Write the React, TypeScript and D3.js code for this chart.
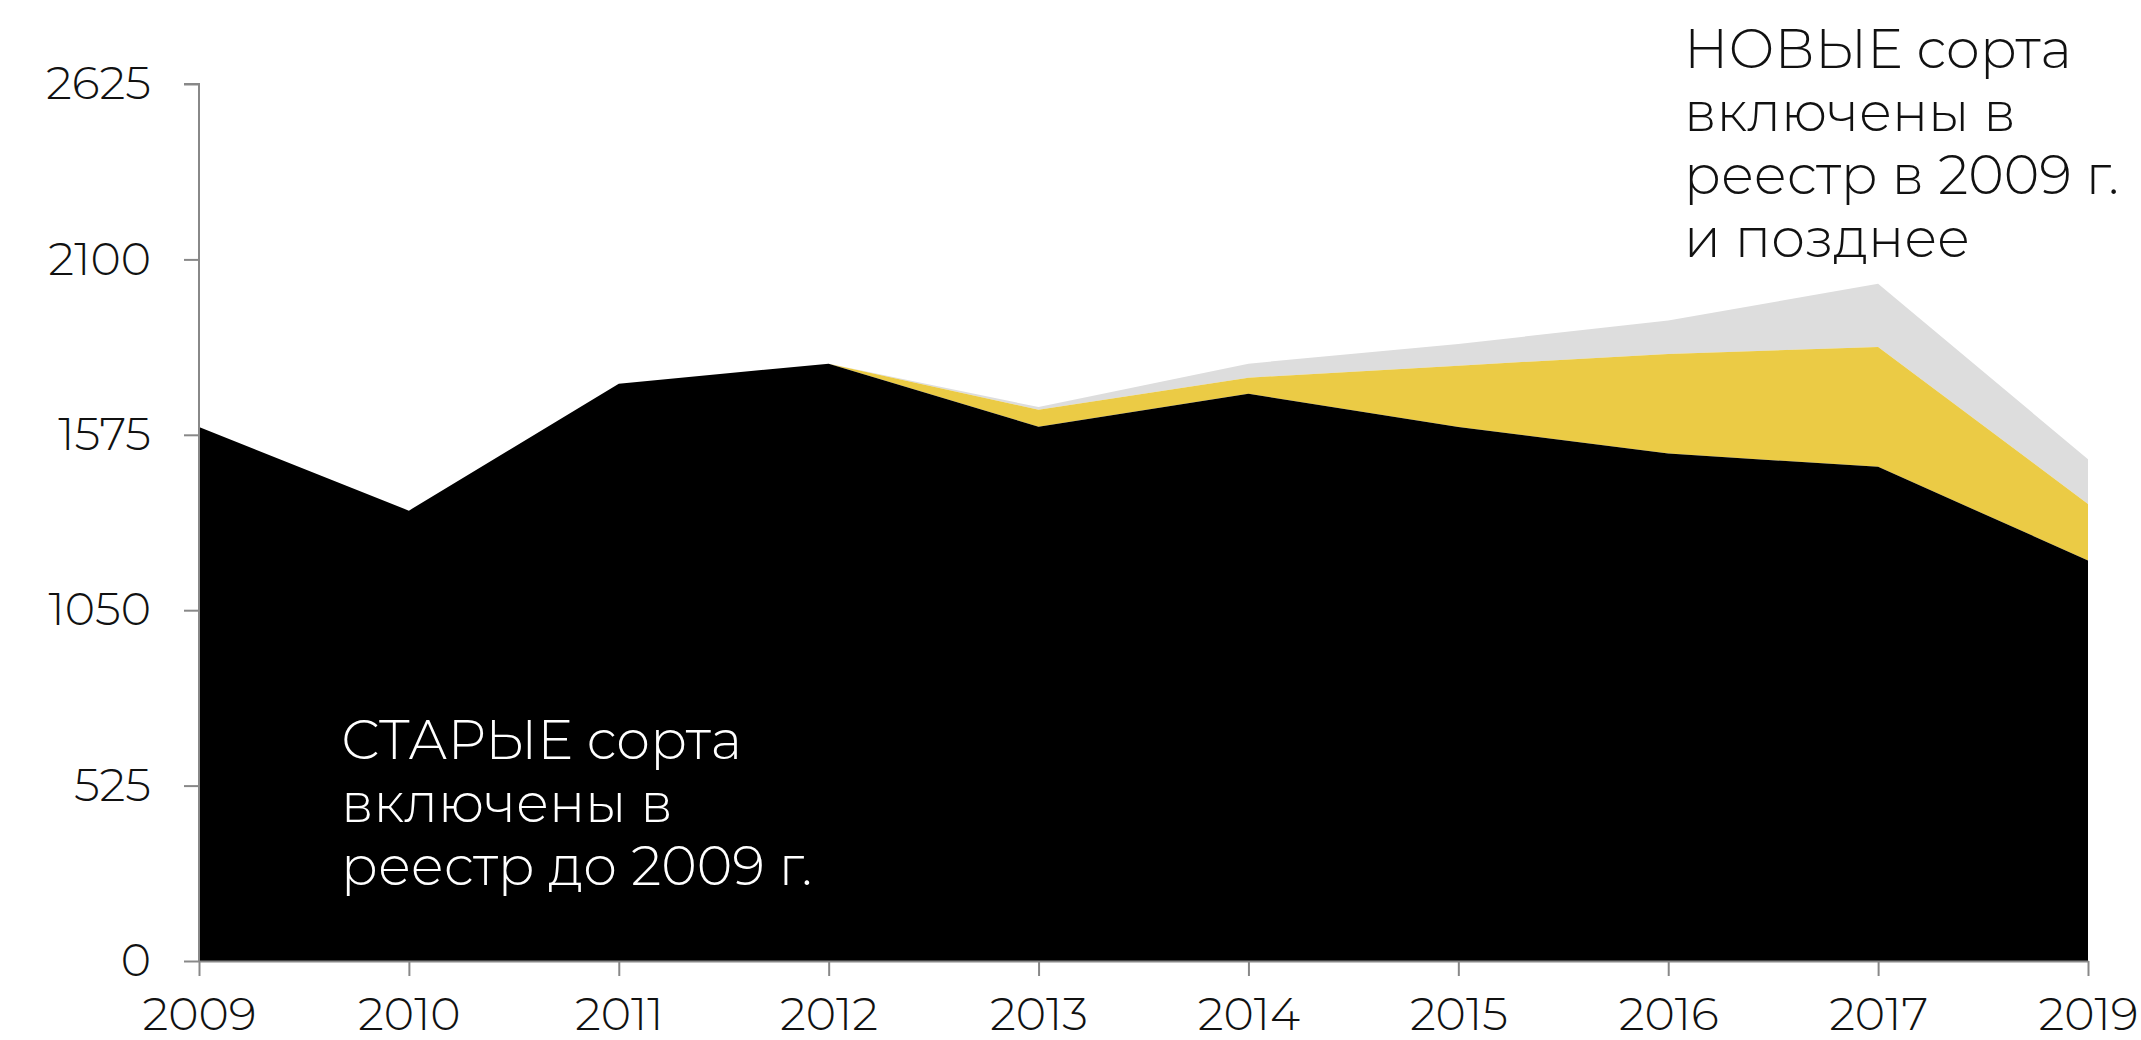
import React, { useRef, useEffect } from 'react';
import * as d3 from 'd3';

// years on the x axis (2018 is not in the source)
const years = ['2009', '2010', '2011', '2012', '2013', '2014', '2015', '2016', '2017', '2019'];
// varieties registered before 2009
const oldVarieties = [1598, 1348, 1728, 1788, 1599, 1698, 1598, 1519, 1479, 1199];
// new varieties, yellow layer
const newYellow = [0, 0, 0, 0, 51, 48, 184, 298, 359, 169];
// new varieties, grey layer
const newGrey = [0, 0, 0, 0, 8, 42, 65, 100, 189, 134];
const yTicks = [0, 525, 1050, 1575, 2100, 2625];

const colors = ['#000000', '#EBCB45', '#DDDDDD'];
const FONT = "Montserrat, 'Open Sans', sans-serif";

export default function App() {
  const svgRef = useRef<SVGSVGElement>(null);

  useEffect(() => {
    const svg = d3.select(svgRef.current);
    const width = 2141;
    const height = 1040;
    svg.attr('viewBox', `0 0 ${width} ${height}`);
    svg.selectAll('*').remove();

    const rows = years.map((y, i) => ({
      year: y,
      old: oldVarieties[i],
      yellow: newYellow[i],
      grey: newGrey[i],
    }));

    const x = d3.scalePoint<string>().domain(years).range([199, 2088]);
    const y = d3.scaleLinear().domain([0, 2625]).range([961, 84]);

    const stack = d3.stack<any>().keys(['old', 'yellow', 'grey']);
    const series = stack(rows);

    const area = d3.area<any>()
      .x(d => x(d.data.year)!)
      .y0(d => y(d[0]))
      .y1(d => y(d[1]));

    // draw grey first so the upper layers sit above it, then yellow, then black
    [2, 1, 0].forEach(k => {
      svg.append('path')
        .datum(series[k])
        .attr('fill', colors[k])
        .attr('d', area);
    });

    const yAxis = svg.append('g')
      .attr('transform', `translate(${x('2009')},0)`)
      .call(d3.axisLeft(y).tickValues(yTicks).tickSize(15).tickPadding(33).tickFormat(d3.format('d')));

    const xAxis = svg.append('g')
      .attr('transform', `translate(0,${y(0)})`)
      .call(d3.axisBottom(x).tickSize(15).tickPadding(21).tickSizeOuter(0));

    [yAxis, xAxis].forEach(g => {
      g.select('.domain').attr('stroke', '#888').attr('stroke-width', 2);
      g.selectAll('.tick line').attr('stroke', '#888').attr('stroke-width', 2);
      g.selectAll('.tick text')
        .attr('fill', '#111')
        .style('font-family', FONT)
        .style('font-weight', 300)
        .style('font-size', '46px');
    });
    yAxis.select('.domain').attr('d', `M-15,${y(2625)}H0V${y(0)}`);

    const label = (lines: string[], x0: number, y0: number, fill: string) => {
      const t = svg.append('text')
        .attr('fill', fill)
        .style('font-family', FONT)
        .style('font-weight', 300)
        .style('font-size', '54px');
      lines.forEach((l, i) => {
        t.append('tspan').attr('x', x0).attr('y', y0 + i * 63).text(l);
      });
    };

    label(['СТАРЫЕ сорта', 'включены в', 'реестр до 2009 г.'], 341, 759, '#fff');
    label(['НОВЫЕ сорта', 'включены в', 'реестр в 2009 г.', 'и позднее'], 1684, 68, '#111');
  }, []);

  return (
    <svg
      ref={svgRef}
      width={2141}
      height={1040}
      style={{ position: 'absolute', left: 0, top: 0, background: '#fff' }}
    />
  );
}
